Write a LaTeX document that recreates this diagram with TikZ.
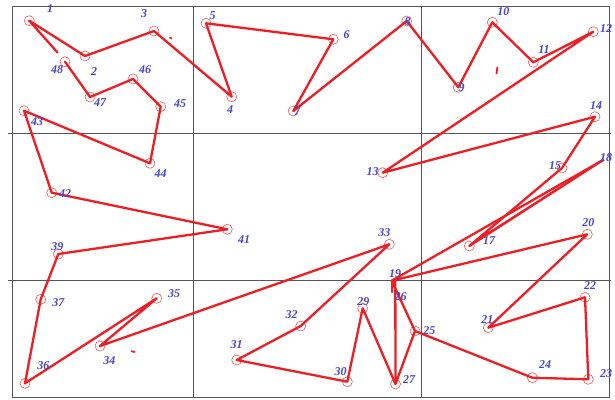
\documentclass[tikz,border=0pt]{standalone}
\usepackage{fontspec}
\setmainfont{Liberation Serif}
\definecolor{routecol}{RGB}{238,30,36}
\definecolor{ringcol}{RGB}{240,90,90}
\definecolor{labcol}{RGB}{70,70,215}
\definecolor{gridcol}{RGB}{85,85,85}
\tikzset{
  route/.style={draw=routecol, line width=2.3pt, line cap=round, line join=round},
  ring/.style={circle, draw=ringcol, line width=0.6pt, minimum size=10pt, inner sep=0pt},
  lab/.style={text=labcol, font=\fontsize{12}{12}\selectfont\bfseries\itshape, inner sep=0pt},
  gridline/.style={draw=gridcol, line width=0.9pt},
  straymark/.style={draw=routecol, line width=1.8pt, line cap=round}
}
\begin{document}
\begin{tikzpicture}[x=1pt,y=-1pt]
\useasboundingbox (0,0) rectangle (615,399);
% grid
\coordinate (gTL) at (12,6);
\coordinate (gTR) at (609,6);
\coordinate (gBL) at (12,397.5);
\coordinate (gBR) at (609,397.5);
\coordinate (v1t) at (193,6);
\coordinate (v1b) at (193,397.5);
\coordinate (v2t) at (421,6);
\coordinate (v2b) at (421,397.5);
\coordinate (h1l) at (8,133);
\coordinate (h1r) at (611,133);
\coordinate (h2l) at (8,280);
\coordinate (h2r) at (611,280);
\draw[gridline] (gTL) -- (gTR) -- (gBR) -- (gBL) -- cycle;
\draw[gridline] (v1t) -- (v1b);
\draw[gridline] (v2t) -- (v2b);
\draw[gridline] (h1l) -- (h1r);
\draw[gridline] (h2l) -- (h2r);
% points
\node[ring] (p1) at (29.3,20.7) {};
\node[ring] (p2) at (85,56) {};
\node[ring] (p3) at (154,31) {};
\node[ring] (p4) at (231.7,96.7) {};
\node[ring] (p5) at (206,23.3) {};
\node[ring] (p6) at (333.3,39.3) {};
\node[ring] (p7) at (293.3,111) {};
\node[ring] (p8) at (406.7,21) {};
\node[ring] (p9) at (458.3,87.3) {};
\node[ring] (p10) at (492.3,22.3) {};
\node[ring] (p11) at (533.3,62.3) {};
\node[ring] (p12) at (593.3,31.7) {};
\node[ring] (p13) at (382.7,172.7) {};
\node[ring] (p14) at (595,116.7) {};
\node[ring] (p15) at (562,168) {};
\coordinate (p16) at (474,242.5);
\node[ring] (p17) at (469.3,246) {};
\coordinate (p18) at (603,160);
\coordinate (p19) at (391.7,280.7);
\coordinate (p19b) at (395.3,281);
\node[ring] (p20) at (587.3,234.3) {};
\node[ring] (p21) at (488.3,327.7) {};
\node[ring] (p22) at (585,297.3) {};
\node[ring] (p23) at (588.3,379.3) {};
\node[ring] (p24) at (532.3,377.7) {};
\node[ring] (p25) at (415,331) {};
\coordinate (p26) at (391.7,292);
\node[ring] (p27) at (395.5,384) {};
\node[ring] (p29) at (362.7,308.3) {};
\node[ring] (p30) at (347.3,381.7) {};
\node[ring] (p31) at (236.7,360) {};
\node[ring] (p32) at (300.7,326) {};
\node[ring] (p33) at (389.3,244.3) {};
\node[ring] (p34) at (100,346) {};
\node[ring] (p35) at (156.7,298.3) {};
\node[ring] (p36) at (25,383.3) {};
\node[ring] (p37) at (40.7,299.3) {};
\node[ring] (p39) at (58.3,254) {};
\node[ring] (p41) at (227.3,229.3) {};
\node[ring] (p42) at (51.7,192.7) {};
\node[ring] (p43) at (24,110.7) {};
\node[ring] (p44) at (150,163.3) {};
\node[ring] (p45) at (160.7,106.7) {};
\node[ring] (p46) at (133,79) {};
\node[ring] (p47) at (90,97) {};
\node[ring] (p48) at (65,61.7) {};
\coordinate (c48) at (57.5,52.5);
% route
\draw[route] (p1.center) -- (p2.center) -- (p3.center) -- (p4.center) -- (p5.center) -- (p6.center) -- (p7.center) -- (p8.center) -- (p9.center) -- (p10.center) -- (p11.center) -- (p12.center) -- (p13.center) -- (p14.center) -- (p15.center) -- (p17.center) -- (p18) -- (p16);
\draw[route] (p18) -- (p19) -- (p20.center) -- (p21.center) -- (p22.center) -- (p23.center) -- (p24.center) -- (p25.center) -- (p19);
\draw[route] (p19) -- (p19b) -- (p27.center) -- (p25.center);
\draw[route] (p19) -- (p26);
\draw[route] (p27.center) -- (p29.center) -- (p30.center) -- (p31.center) -- (p32.center) -- (p33.center) -- (p34.center) -- (p35.center) -- (p36.center) -- (p37.center) -- (p39.center) -- (p41.center) -- (p42.center) -- (p43.center) -- (p44.center) -- (p45.center) -- (p46.center) -- (p47.center) -- (p48.center);
\draw[route] (p1.center) -- (c48);
% stray marks
\coordinate (m1a) at (170,37.5);
\coordinate (m1b) at (171.5,38.5);
\coordinate (m2a) at (497.3,67.5);
\coordinate (m2b) at (496.5,73.5);
\coordinate (m3a) at (131.5,351.2);
\coordinate (m3b) at (134.5,352);
\draw[straymark] (m1a) -- (m1b);
\draw[straymark] (m2a) -- (m2b);
\draw[straymark] (m3a) -- (m3b);
% labels
\node[lab] (l1) at (50,9) {1};
\node[lab] (l2) at (94,72) {2};
\node[lab] (l3) at (144,14) {3};
\node[lab] (l4) at (230,110) {4};
\node[lab] (l5) at (212.7,16) {5};
\node[lab] (l6) at (346.7,34.3) {6};
\node[lab] (l7) at (297,111.7) {7};
\node[lab] (l8) at (407.5,21.7) {8};
\node[lab] (l9) at (461.7,87.3) {9};
\node[lab] (l10) at (503.3,11.7) {10};
\node[lab] (l11) at (544,50) {11};
\node[lab] (l12) at (606,28.3) {12};
\node[lab] (l13) at (372.7,171.7) {13};
\node[lab] (l14) at (596,106) {14};
\node[lab] (l15) at (555,166) {15};
\node[lab] (l17) at (489,241) {17};
\node[lab] (l18) at (606,157.3) {18};
\node[lab] (l19) at (395,273.3) {19};
\node[lab] (l20) at (588.3,222.3) {20};
\node[lab] (l21) at (487.3,319.3) {21};
\node[lab] (l22) at (590,286) {22};
\node[lab] (l23) at (606,374) {23};
\node[lab] (l24) at (545,365) {24};
\node[lab] (l25) at (429.3,331) {25};
\node[lab] (l26) at (400.5,297) {26};
\node[lab] (l27) at (409,379.3) {27};
\node[lab] (l29) at (363.3,301.7) {29};
\node[lab] (l30) at (340.7,371.7) {30};
\node[lab] (l31) at (236.7,345) {31};
\node[lab] (l32) at (291.7,315) {32};
\node[lab] (l33) at (384.3,232.3) {33};
\node[lab] (l34) at (109.3,361) {34};
\node[lab] (l35) at (174,293.3) {35};
\node[lab] (l36) at (43.3,365.7) {36};
\node[lab] (l37) at (58.3,302.3) {37};
\node[lab] (l39) at (57.3,246.7) {39};
\node[lab] (l41) at (244,240) {41};
\node[lab] (l42) at (65,193.3) {42};
\node[lab] (l43) at (37,122) {43};
\node[lab] (l44) at (160.7,174) {44};
\node[lab] (l45) at (180,104) {45};
\node[lab] (l46) at (145,70) {46};
\node[lab] (l47) at (100,103) {47};
\node[lab] (l48) at (57,70) {48};
\end{tikzpicture}
\end{document}
